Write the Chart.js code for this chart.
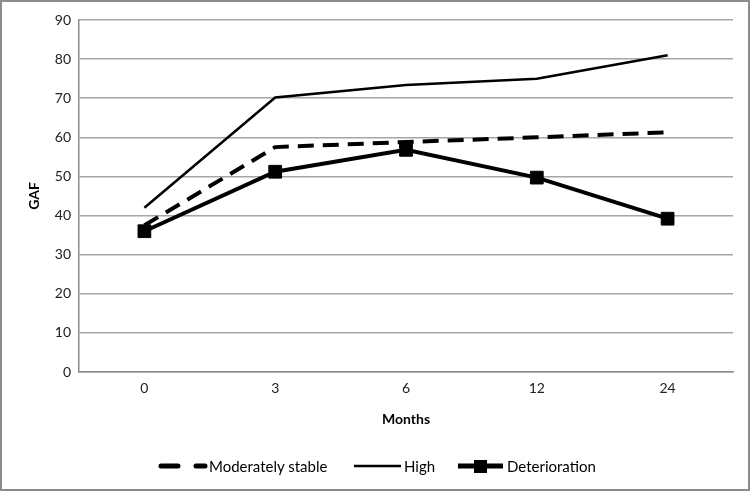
<!DOCTYPE html>
<html>
<head>
<meta charset="utf-8">
<script src="https://cdn.jsdelivr.net/npm/chart.js@4"></script>
<style>
  body { margin: 0; background: #fff; }
  #wrap { position: relative; width: 746px; height: 487px; border: 2px solid #8c8c8c; }
  #legend { position: absolute; left: 0; top: 452px; width: 746px; height: 24px; font: 15px Lato, sans-serif; color: #000; }
  .sample, .label { position: absolute; top: 0; height: 24px; line-height: 24px; white-space: nowrap; }
  .sample svg { display: block; margin-top: 4px; }
</style>
</head>
<body>
<div id="wrap">
  <canvas id="gafChart" width="746" height="487"></canvas>
  <div id="legend"></div>
</div>
<script>
const months = ['0', '3', '6', '12', '24'];
const moderatelyStable = [37.5, 57.5, 58.8, 60, 61.3];
const high = [42, 70.2, 73.4, 75, 81];
const deterioration = [36, 51.2, 56.8, 49.7, 39.2];
const yTicks = { min: 0, max: 90, step: 10 };

const fontFamily = 'Lato, sans-serif';

var ctx = document.getElementById('gafChart').getContext('2d');
var gafChart = new Chart(ctx, {
    type: 'line',
    data: {
        labels: months,
        datasets: [{
            label: 'Moderately stable',
            data: moderatelyStable,
            borderColor: '#000',
            borderWidth: 4,
            borderDash: [16, 9],
            pointRadius: 0,
            tension: 0
        }, {
            label: 'High',
            data: high,
            borderColor: '#000',
            borderWidth: 2.5,
            pointRadius: 0,
            tension: 0
        }, {
            label: 'Deterioration',
            data: deterioration,
            borderColor: '#000',
            backgroundColor: '#000',
            borderWidth: 4,
            pointStyle: 'rect',
            pointRadius: 9,
            pointBorderWidth: 1,
            tension: 0
        }]
    },
    options: {
        responsive: false,
        animation: false,
        layout: { padding: { top: 18, right: 15, left: 24, bottom: 57 } },
        plugins: {
            legend: { display: false },
            tooltip: { enabled: false }
        },
        scales: {
            x: {
                offset: true,
                grid: { display: false, drawTicks: false },
                border: { display: true, color: '#8c8c8c', width: 1.5 },
                ticks: { color: '#222', padding: 8, font: { family: fontFamily, size: 14 } },
                title: { display: true, text: 'Months', color: '#000', padding: { top: 8 }, font: { family: fontFamily, size: 14, weight: 'bold' } },
                afterFit: function(scale) { scale.height = 60; }
            },
            y: {
                min: yTicks.min,
                max: yTicks.max,
                ticks: { stepSize: yTicks.step, color: '#222', padding: 8, font: { family: fontFamily, size: 14 } },
                grid: { color: '#a6a6a6', lineWidth: 1.5, drawTicks: false },
                border: { display: true, color: '#8c8c8c', width: 1.5 },
                title: { display: true, text: 'GAF', color: '#000', padding: 0, font: { family: fontFamily, size: 14, weight: 'bold' } },
                afterFit: function(scale) { scale.width = 53; }
            }
        }
    }
});

// HTML legend under the chart
const legendItems = [
    { text: 'Moderately stable', sampleLeft: 156, textLeft: 207, svg: '<svg width="50" height="16"><line x1="3" y1="8" x2="47" y2="8" stroke="#000" stroke-width="5" stroke-linecap="round" stroke-dasharray="17 18"/></svg>' },
    { text: 'High', sampleLeft: 352, textLeft: 402, svg: '<svg width="47" height="16"><line x1="0" y1="8" x2="47" y2="8" stroke="#000" stroke-width="2.5"/></svg>' },
    { text: 'Deterioration', sampleLeft: 456, textLeft: 505, svg: '<svg width="45" height="16"><line x1="0" y1="8" x2="45" y2="8" stroke="#000" stroke-width="5"/><rect x="16" y="2" width="13" height="13" fill="#000"/></svg>' }
];
const legendEl = document.getElementById('legend');
legendItems.forEach(item => {
    const sample = document.createElement('div');
    sample.className = 'sample';
    sample.style.left = item.sampleLeft + 'px';
    sample.innerHTML = item.svg;
    legendEl.appendChild(sample);
    const label = document.createElement('div');
    label.className = 'label';
    label.style.left = item.textLeft + 'px';
    label.textContent = item.text;
    legendEl.appendChild(label);
});
</script>
</body>
</html>
